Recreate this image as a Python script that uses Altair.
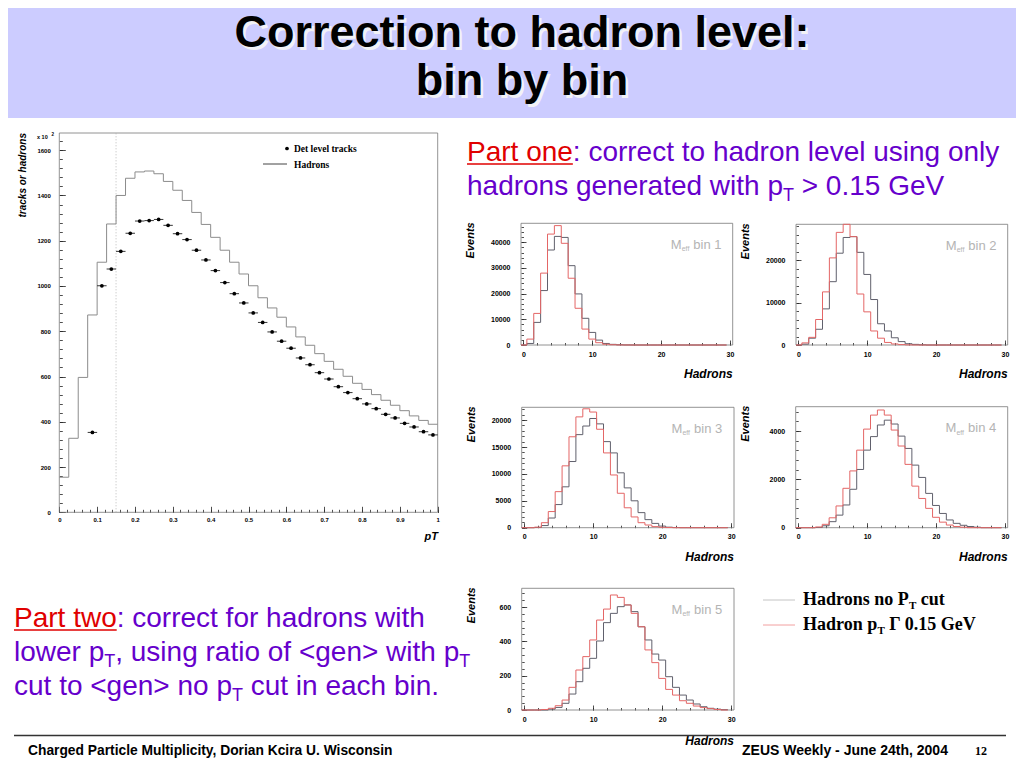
import altair as alt
import pandas as pd

# ------------------------------------------------------------------
# DATA
# ------------------------------------------------------------------
# main panel: pT spectrum, bins of 0.025 GeV, values in units of 10^2
pt_bin_width = 0.025
hadrons_pt = [155, 327, 596, 872, 1105, 1274, 1400, 1476, 1504, 1508,
              1496, 1462, 1423, 1378, 1325, 1272, 1215, 1158, 1105, 1053,
              1001, 948, 903, 862, 819, 775, 738, 701, 667, 632,
              601, 570, 543, 520, 495, 473, 449, 426, 406, 389]
det_tracks_pt = [None, None, None, 353, 1001, 1075, 1153, 1233, 1287, 1289,
                 1294, 1268, 1231, 1205, 1158, 1115, 1068, 1015, 966, 925,
                 881, 839, 797, 756, 725, 682, 652, 617, 589, 555,
                 529, 502, 479, 458, 433, 417, 393, 377, 356, 342]
pt_cut_value = 0.15
main_x_ticks = [0, 0.1, 0.2, 0.3, 0.4, 0.5, 0.6, 0.7, 0.8, 0.9, 1]
main_y_ticks = [0, 200, 400, 600, 800, 1000, 1200, 1400, 1600]
main_y_max = 1676

# small panels: hadron multiplicity (0..29) per M_eff bin
nocut_1 = [0, 600, 8800, 21200, 37000, 42300, 41900, 30900, 19900, 10400,
           4900, 1900, 600, 250, 80, 30, 10, 0, 0, 0,
           0, 0, 0, 0, 0, 0, 0, 0, 0, 0]
cut_1 = [0, 2300, 12300, 28000, 43200, 46500, 39600, 26000, 14300, 6200,
         2300, 900, 300, 100, 30, 10, 0, 0, 0, 0,
         0, 0, 0, 0, 0, 0, 0, 0, 0, 0]
nocut_2 = [0, 200, 1600, 3700, 8500, 14900, 21600, 25300, 25500, 21800,
           16600, 10700, 5000, 3300, 1700, 800, 300, 150, 50, 0,
           0, 0, 0, 0, 0, 0, 0, 0, 0, 0]
cut_2 = [0, 500, 1800, 6000, 12500, 20500, 26500, 33000, 25500, 12000,
         7800, 3300, 1600, 600, 250, 100, 30, 0, 0, 0,
         0, 0, 0, 0, 0, 0, 0, 0, 0, 0]
nocut_3 = [0, 0, 50, 400, 1800, 4300, 7600, 12300, 17300, 18900,
           20300, 19300, 16000, 13900, 10200, 7400, 5000, 2800, 1500, 800,
           300, 100, 30, 0, 0, 0, 0, 0, 0, 0]
cut_3 = [0, 0, 100, 930, 3000, 6700, 11500, 16900, 20600, 22100,
         21500, 18300, 13900, 9800, 6400, 3700, 2000, 930, 500, 200,
         80, 30, 0, 0, 0, 0, 0, 0, 0, 0]
nocut_4 = [0, 0, 0, 10, 80, 250, 520, 940, 1590, 2410,
           3210, 3770, 4250, 4450, 4290, 3790, 3280, 2590, 2080, 1420,
           920, 590, 320, 180, 100, 50, 20, 0, 0, 0]
cut_4 = [0, 0, 0, 30, 140, 410, 900, 1630, 2350, 3210,
         4080, 4660, 4870, 4660, 4040, 3380, 2620, 1720, 1210, 800,
         430, 230, 110, 50, 20, 0, 0, 0, 0, 0]
nocut_5 = [0, 0, 0, 0, 5, 15, 39, 93, 165, 243,
           301, 402, 509, 563, 602, 612, 573, 485, 408, 326,
           291, 194, 132, 87, 58, 35, 19, 10, 5, 2]
cut_5 = [0, 0, 0, 3, 10, 25, 58, 132, 233, 311,
         408, 524, 588, 670, 656, 612, 563, 485, 350, 276,
         184, 120, 87, 54, 39, 23, 14, 8, 3, 0]

panel_nocut = [nocut_1, nocut_2, nocut_3, nocut_4, nocut_5]
panel_cut = [cut_1, cut_2, cut_3, cut_4, cut_5]
panel_labels = ["bin 1", "bin 2", "bin 3", "bin 4", "bin 5"]
panel_ymax = [47400, 28400, 22380, 5007, 709]
panel_yticks = [[0, 10000, 20000, 30000, 40000], [0, 10000, 20000],
                [0, 5000, 10000, 15000, 20000], [0, 2000, 4000], [0, 200, 400, 600]]
panel_yminor = [2000, 2000, 1000, 400, 40]
panel_x_ticks = [0, 10, 20, 30]
panel_x_domain = [-0.35, 30.4]

# ------------------------------------------------------------------
# LAYOUT / STYLE
# ------------------------------------------------------------------
W_TOTAL, H_TOTAL = 1008, 752
SANS = "Liberation Sans"
SERIF = "Liberation Serif"
NARROW = "'Liberation Sans Narrow', 'Liberation Sans', sans-serif"
PURPLE = "#6600CC"
RED = "#E00000"
DARK_LINE = "#60606c"
RED_LINE = "#e46666"
ONE = pd.DataFrame({"k": [0]})

# panel boxes in page pixels: (x_left, x_right), (y_bottom, y_top)
panel_boxes = [((521.0, 732.7), (345.0, 223.3)),
               ((796.0, 1007.7), (345.0, 224.3)),
               ((521.7, 734.0), (527.7, 407.3)),
               ((795.7, 1007.7), (527.7, 406.7)),
               ((521.7, 734.0), (710.0, 588.3))]
panel_clamp = [False, True, False, False, False]


def P(v):
    return v - 8


AR = {' ': 278, ',': 278, '-': 333, '.': 278, ':': 278, '<': 584, '>': 584,
      'a': 556, 'b': 556, 'c': 500, 'd': 556, 'e': 556, 'f': 278, 'g': 556, 'h': 556,
      'i': 222, 'j': 222, 'k': 500, 'l': 222, 'm': 833, 'n': 556, 'o': 556, 'p': 556,
      'q': 556, 'r': 333, 's': 500, 't': 278, 'u': 556, 'v': 500, 'w': 722, 'x': 500,
      'y': 500, 'z': 500, 'G': 778, 'M': 833, 'P': 667, 'T': 611, 'V': 667}
TB = {' ': 250, '.': 250, 'H': 778, 'a': 500, 'd': 556, 'r': 444, 'o': 500, 'n': 556,
      's': 389, 'P': 611, 'T': 667, 'c': 444, 'u': 556, 't': 333, 'p': 556, 'G': 778,
      'e': 444, 'V': 722, 'Γ': 620}


def w_arial(s, size):
    return sum(AR.get(c, 556) for c in s) * size / 1000.0


def w_times(s, size):
    return sum(TB.get(c, 500) for c in s) * size / 1000.0


def text(txt, x, y, size, color="black", font=SANS, weight="normal", style="normal",
         align="left", angle=0, baseline="alphabetic"):
    mk = dict(text=txt, fontSize=size, color=color, font=font, fontWeight=weight,
              fontStyle=style, align=align, baseline=baseline)
    if angle:
        mk["angle"] = angle
    return alt.Chart(ONE).mark_text(**mk).encode(x=alt.value(P(x)), y=alt.value(P(y)))


def hrule(x1, x2, y, color, width=1.0):
    return alt.Chart(ONE).mark_rule(color=color, strokeWidth=width).encode(
        x=alt.value(P(x1)), x2=alt.value(P(x2)), y=alt.value(P(y)))


def run(parts, x, y, wfun, font, weight="normal"):
    out = []
    cx = x
    for txt, size, dy, color, ul in parts:
        lead = len(txt) - len(txt.lstrip(" "))
        core = txt.strip(" ")
        sx = cx + wfun(" " * lead, size)
        out.append(text(core, sx, y + dy, size, color, font, weight))
        if ul:
            out.append(hrule(sx, sx + wfun(core, size), y + 3, color, 1.5))
        cx += wfun(txt, size)
    return out


def axes(X0, Y0, xvals, yvals, T, lpx, lpy, fs, labels=True, fmt_x="~g"):
    common = dict(domain=False, grid=False, title=None, tickSize=T, tickColor="#222",
                  tickWidth=0.8, labelFont=SANS, labelFontSize=fs, labelFontWeight="bold",
                  labelColor="black", labelFlush=False, labelOverlap=False, labels=labels)
    ax = alt.Axis(orient="bottom", values=xvals, offset=(Y0 - T) - H_TOTAL,
                  labelPadding=lpx, format=fmt_x, **common)
    ay = alt.Axis(orient="left", values=yvals, offset=-(X0 + T),
                  labelPadding=lpy, format="d", **common)
    return ax, ay


def step_df(vals, first_edge, width):
    edges = [first_edge + i * width for i in range(len(vals) + 1)]
    return pd.DataFrame({"x": edges, "v": list(vals) + [vals[-1]]})


# ------------------------------------------------------------------
# small histogram panels
# ------------------------------------------------------------------
def panel(i):
    (xl, xr), (yb, yt) = panel_boxes[i]
    X0, X1, Y0, Y1 = P(xl), P(xr), P(yb), P(yt)
    ymax = panel_ymax[i]
    xs = alt.Scale(domain=panel_x_domain, range=[X0, X1], nice=False, zero=False, clamp=True)
    ys = alt.Scale(domain=[0, ymax], range=[Y0, Y1], nice=False, zero=False,
                   clamp=panel_clamp[i])
    ax, ay = axes(X0, Y0, panel_x_ticks, panel_yticks[i], 5, 5, 11, 7, fmt_x="d")
    minor_x = list(range(0, 31, 2))
    minor_y = list(range(0, int(ymax) + 1, panel_yminor[i]))
    mx, my = axes(X0, Y0, minor_x, minor_y, 2.5, 5, 11, 7, labels=False, fmt_x="d")
    fdf = pd.DataFrame({"xa": [panel_x_domain[0]], "xb": [panel_x_domain[1]],
                        "ya": [0], "yb": [ymax]})
    frame = alt.Chart(fdf).mark_rect(fillOpacity=0, stroke="#777", strokeWidth=0.8).encode(
        x=alt.X("xa:Q", scale=xs, axis=mx), x2="xb",
        y=alt.Y("ya:Q", scale=ys, axis=my), y2="yb")
    dark = alt.Chart(step_df(panel_nocut[i], -0.5, 1)).mark_line(
        interpolate="step-after", color=DARK_LINE, strokeWidth=1).encode(
        x=alt.X("x:Q", scale=xs, axis=ax), y=alt.Y("v:Q", scale=ys, axis=ay))
    red = alt.Chart(step_df(panel_cut[i], -0.5, 1)).mark_line(
        interpolate="step-after", color=RED_LINE, strokeWidth=1).encode(
        x=alt.X("x:Q", scale=xs, axis=None), y=alt.Y("v:Q", scale=ys, axis=None))
    return alt.layer(frame, dark, red).resolve_axis(x="independent", y="independent")


def panel_decor(i):
    (xl, xr), (yb, yt) = panel_boxes[i]
    out = []
    out.append(text("Events", xl - 50, yt - 1, 11, weight="bold", style="italic",
                    align="right", angle=270, baseline="middle"))
    out.append(text("Hadrons", xr, yb + 33 if i < 4 else yb + 35, 12, weight="bold",
                    style="italic", align="right"))
    mx = xl + 149.7
    my = yt + 25.5
    out.append(text("M", mx, my, 13, color="#b4b4b4"))
    out.append(text("eff", mx + 11, my + 2.5, 7, color="#b4b4b4"))
    out.append(text(panel_labels[i], mx + 19 + w_arial(" ", 13), my, 13, color="#b4b4b4"))
    return out


# ------------------------------------------------------------------
# main pT panel
# ------------------------------------------------------------------
MX0, MX1, MY0, MY1 = P(59.3), P(437.7), P(512.3), P(133.0)
mxs = alt.Scale(domain=[0, 1], range=[MX0, MX1], nice=False, zero=False)
mys = alt.Scale(domain=[0, main_y_max], range=[MY0, MY1], nice=False, zero=False)
m_ax, m_ay = axes(MX0, MY0, main_x_ticks, main_y_ticks, 6, 4.5, 9, 6)
m_mx, m_my = axes(MX0, MY0, [round(0.02 * k, 2) for k in range(51)],
                  list(range(0, main_y_max + 1, 40)), 3, 4.5, 9, 6, labels=False)

main_frame = alt.Chart(pd.DataFrame({"xa": [0], "xb": [1], "ya": [0], "yb": [main_y_max]})
                       ).mark_rect(fillOpacity=0, stroke="#777", strokeWidth=0.8).encode(
    x=alt.X("xa:Q", scale=mxs, axis=m_mx), x2="xb",
    y=alt.Y("ya:Q", scale=mys, axis=m_my), y2="yb")
cut_line = alt.Chart(pd.DataFrame({"x": [pt_cut_value], "ya": [0], "yb": [main_y_max]})
                     ).mark_rule(color="#aaaaaa", strokeWidth=0.8, strokeDash=[1, 2]).encode(
    x=alt.X("x:Q", scale=mxs, axis=None), y=alt.Y("ya:Q", scale=mys, axis=None), y2="yb")
had_line = alt.Chart(step_df(hadrons_pt, 0, pt_bin_width)).mark_line(
    interpolate="step-after", color="#8c8c8c", strokeWidth=1).encode(
    x=alt.X("x:Q", scale=mxs, axis=m_ax), y=alt.Y("v:Q", scale=mys, axis=m_ay))

det_rows = [{"xc": (k + 0.5) * pt_bin_width, "lo": k * pt_bin_width,
             "hi": (k + 1) * pt_bin_width, "v": v}
            for k, v in enumerate(det_tracks_pt) if v is not None]
det_df = pd.DataFrame(det_rows)
det_err = alt.Chart(det_df).mark_rule(color="black", strokeWidth=0.8).encode(
    x=alt.X("lo:Q", scale=mxs, axis=None), x2="hi", y=alt.Y("v:Q", scale=mys, axis=None))
det_pts = alt.Chart(det_df).mark_circle(color="black", size=14, opacity=1).encode(
    x=alt.X("xc:Q", scale=mxs, axis=None), y=alt.Y("v:Q", scale=mys, axis=None))

main_panel = alt.layer(main_frame, cut_line, had_line, det_err, det_pts).resolve_axis(
    x="independent", y="independent")

main_decor = [
    text("x 10", 37, 139, 5.5, weight="bold"),
    text("2", 51.5, 136, 4.5, weight="bold"),
    text("tracks or hadrons", 23, 133, 10, weight="bold", style="italic",
         align="right", angle=270, baseline="middle"),
    text("pT", 438, 540, 11, weight="bold", style="italic", align="right"),
    alt.Chart(ONE).mark_circle(color="black", size=14, opacity=1).encode(
        x=alt.value(P(287)), y=alt.value(P(148.5))),
    text("Det level tracks", 294, 151.5, 9.5, font=SERIF, weight="bold"),
    hrule(263, 287, 164, "#444", 1.0),
    text("Hadrons", 294, 167.5, 9.5, font=SERIF, weight="bold"),
]

# ------------------------------------------------------------------
# slide decoration
# ------------------------------------------------------------------
band = alt.Chart(ONE).mark_rect(color="#ccccff").encode(
    x=alt.value(-8), x2=alt.value(W_TOTAL + 8), y=alt.value(-8), y2=alt.value(P(118)))

title = []
for line, base in [("Correction to hadron level:", 47), ("bin by bin", 95)]:
    title.append(text(line, 524.5, base + 2.5, 45, color="#f2f2f6", weight="bold", align="center"))
    title.append(text(line, 522, base, 45, color="black", weight="bold", align="center"))

body = []
body += run([("Part one", 28, 0, RED, True),
             (": correct to hadron level using only", 28, 0, PURPLE, False)],
            467, 161, w_arial, SANS)
body += run([("hadrons generated with p", 28, 0, PURPLE, False),
             ("T", 18, 6, PURPLE, False),
             (" > 0.15 GeV", 28, 0, PURPLE, False)],
            467, 195, w_arial, SANS)
body += run([("Part two", 28, 0, RED, True),
             (": correct for hadrons with", 28, 0, PURPLE, False)],
            14, 627, w_arial, SANS)
body += run([("lower p", 28, 0, PURPLE, False),
             ("T", 18, 6, PURPLE, False),
             (", using ratio of <gen> with p", 28, 0, PURPLE, False),
             ("T", 18, 6, PURPLE, False)],
            14, 661, w_arial, SANS)
body += run([("cut to <gen> no p", 28, 0, PURPLE, False),
             ("T", 18, 6, PURPLE, False),
             (" cut in each bin.", 28, 0, PURPLE, False)],
            14, 695, w_arial, SANS)

legend = [hrule(763, 795, 600, "#c4c4c4", 1.0), hrule(763, 795, 625, "#f2a0a0", 1.0)]
legend += run([("Hadrons no P", 18, 0, "black", False), ("T", 11, 4, "black", False),
               (" cut", 18, 0, "black", False)], 803, 605, w_times, SERIF, "bold")
legend += run([("Hadron p", 18, 0, "black", False), ("T", 11, 4, "black", False),
               (" Γ 0.15 GeV", 18, 0, "black", False)], 803, 630, w_times, SERIF, "bold")

footer = [
    hrule(14, 1006, 735.5, "#333333", 1.5),
    text("Charged Particle Multiplicity, Dorian Kcira U. Wisconsin", 28, 755, 13.8,
         font=NARROW, weight="bold"),
    text("ZEUS Weekly - June 24th, 2004", 742, 755, 14, font=NARROW, weight="bold"),
    text("12", 975, 755, 12, font=SERIF, weight="bold"),
]

layers = [band] + title + [main_panel] + [panel(i) for i in range(5)]
for i in range(5):
    layers += panel_decor(i)
layers += main_decor + body + legend + footer

chart = alt.layer(*layers).resolve_scale(
    x="independent", y="independent").resolve_axis(
    x="independent", y="independent").properties(
    width=W_TOTAL, height=H_TOTAL, padding=0,
    autosize=alt.AutoSizeParams(type="none")).configure_view(stroke="transparent")

chart.save("out.html", embed_options={"renderer": "svg", "actions": False})
